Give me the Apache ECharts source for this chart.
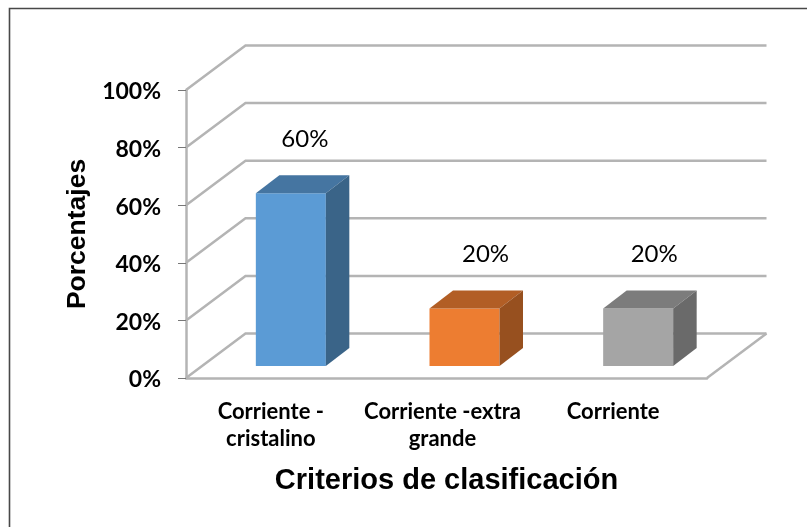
<!DOCTYPE html>
<html><head><meta charset="utf-8">
<style>html,body{margin:0;padding:0;background:#fff}#c{width:807px;height:527px}</style>
<script src="https://cdn.jsdelivr.net/npm/echarts@6/dist/echarts.min.js"></script>
</head><body><div id="c"></div>
<script>
var categories = ['Corriente -\ncristalino', 'Corriente -extra\ngrande', 'Corriente'];
var values = [60, 20, 20];
var valueLabels = ['60%', '20%', '20%'];
var ticks = [0, 20, 40, 60, 80, 100];
var frontColors = ['#5B9BD5', '#ED7D31', '#A5A5A5'];
var topColors = ['#4575A1', '#B25E25', '#7C7C7C'];
var sideColors = ['#3A6488', '#97501F', '#6A6A6A'];

var DX = 59.5, DY = -44.5;
var BAR_W = 70;
var BAR_OFF = [18, -12];
var BAR_D = [23.5, -18];
var LABEL_SHIFT = [14, 21, 16];
var wallColor = '#B4B4B4';
var catPadStyles = ['p0', 'p1', 'p2'];
var catStyle = {color:'#000',fontFamily:'Lato',fontWeight:'bold',fontSize:22,lineHeight:27};
function catRich(padRight){ return Object.assign({padding:[0,padRight,0,0]}, catStyle); }

var chart = echarts.init(document.getElementById('c'));
chart.setOption({
  animation: false,
  backgroundColor: '#fff',
  graphic: [{type:'polyline', shape:{points:[[9.5,527],[9.5,8.5],[807,8.5]]}, style:{fill:'none',stroke:'#484848',lineWidth:1.6}, silent:true}],
  grid: {left:186, right:100, top:90, bottom:149},
  xAxis: {
    type:'category', data:categories,
    axisLine:{show:true,lineStyle:{color:wallColor,width:2.5}},
    axisTick:{show:false},
    axisLabel:{color:'#000',fontFamily:'Lato',fontWeight:'bold',fontSize:22,lineHeight:27,margin:20,interval:0,
      formatter:function(v,i){
        return v.split('\n').map(function(l){return '{'+catPadStyles[i]+'|'+l+'}';}).join('\n');
      },
      rich:{p0:catRich(4),p1:catRich(8),p2:catRich(14)}
    },
    name:'Criterios de clasificación', nameLocation:'middle', nameGap:88,
    nameTextStyle:{color:'#000',fontFamily:'Liberation Sans',fontWeight:'bold',fontSize:29}
  },
  yAxis: {
    type:'value', min:0, max:100, interval:20,
    axisLine:{show:true,lineStyle:{color:wallColor,width:2.5}},
    axisTick:{show:true,length:8,lineStyle:{color:'#777',width:1}},
    splitLine:{show:false},
    axisLabel:{color:'#000',fontFamily:'Lato',fontWeight:'bold',fontSize:23,margin:25,
      formatter:function(v){return '{t|'+v+'%}';},
      rich:{t:{color:'#000',fontFamily:'Lato',fontWeight:'bold',fontSize:23,padding:[4,0,0,0]}},
      verticalAlign:'middle',verticalAlignMinLabel:'middle',verticalAlignMaxLabel:'middle'},
    name:'Porcentajes', nameLocation:'middle', nameGap:95,
    nameTextStyle:{color:'#000',fontFamily:'Liberation Sans',fontWeight:'bold',fontSize:26.5}
  },
  series: [
    { type:'custom', z:1, silent:true, clip:false,
      data: ticks.map(function(t){return [0,t];}),
      encode:{x:0,y:1},
      renderItem:function(p,api){
        var y = api.coord([0, api.value(1)])[1];
        var r = p.coordSys;
        var x0 = r.x, x1 = r.x + r.width;
        var pts = [[x0,y],[x0+DX,y+DY],[x1+DX,y+DY]];
        var children = [{type:'polyline',shape:{points:pts},style:{fill:'none',stroke:wallColor,lineWidth:2.5}}];
        if (api.value(1)===ticks[0]) {
          children.push({type:'line',shape:{x1:x1,y1:y,x2:x1+DX,y2:y+DY},style:{stroke:wallColor,lineWidth:2.5}});
        }
        return {type:'group',children:children};
      }
    },
    { type:'custom', z:2, silent:true, clip:false,
      data: values.map(function(v,i){return [i,v,valueLabels[i]];}),
      encode:{x:0,y:1},
      renderItem:function(p,api){
        var i = api.value(0);
        var top = api.coord([i, api.value(1)]);
        var base = api.coord([i, 0]);
        var xl = top[0] - BAR_W/2 + BAR_OFF[0], xr = xl + BAR_W;
        var yt = top[1] + BAR_OFF[1], yb = base[1] + BAR_OFF[1];
        var dx = BAR_D[0], dy = BAR_D[1];
        return {type:'group',children:[
          {type:'rect',shape:{x:xl,y:yt,width:BAR_W,height:yb-yt},style:{fill:frontColors[i]}},
          {type:'polygon',shape:{points:[[xl,yt],[xl+dx,yt+dy],[xr+dx,yt+dy],[xr,yt]]},style:{fill:topColors[i]}},
          {type:'polygon',shape:{points:[[xr,yt],[xr+dx,yt+dy],[xr+dx,yb+dy],[xr,yb]]},style:{fill:sideColors[i]}},
          {type:'text',style:{text:valueLabels[i],x:(xl+xr)/2+LABEL_SHIFT[i],y:yt+dy-36,align:'center',verticalAlign:'middle',fill:'#000',fontFamily:'Lato',fontSize:24}}
        ]};
      }
    }
  ]
});
</script></body></html>
